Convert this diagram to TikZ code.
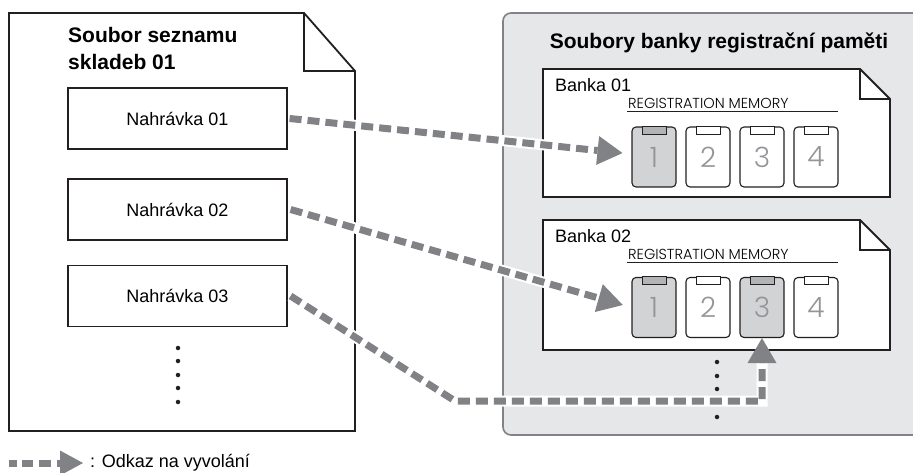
\documentclass[tikz,border=0pt]{standalone}
\usepackage{fontspec}
\setmainfont{Liberation Sans}
\newfontfamily\lightfont{Poppins Light}
\usetikzlibrary{arrows.meta}
\definecolor{dark}{HTML}{231F20}
\definecolor{arrgray}{HTML}{808285}
\definecolor{panel}{HTML}{E6E7E8}
\definecolor{hl}{HTML}{D1D3D4}
\definecolor{numgray}{HTML}{939598}
\tikzset{
  docline/.style={draw=dark, line width=1.8pt, line join=miter},
  foldline/.style={draw=dark, line width=1.2pt},
  recbox/.style={draw=dark, line width=1.2pt, fill=white, minimum width=219pt, minimum height=61pt, inner sep=0pt, font=\fontsize{18}{20}\selectfont},
  btn/.style={draw=dark, line width=1.1pt, rounded corners=4pt, fill=white, minimum width=44pt, minimum height=60pt, inner sep=0pt, text=numgray, font=\lightfont\fontsize{28}{30}\selectfont},
  btnon/.style={btn, fill=hl},
  tabw/.style={draw=dark, line width=1pt, fill=white},
  tabg/.style={draw=dark, line width=1pt, fill=hl!85!black},
  titlef/.style={font=\bfseries\fontsize{21}{27}\selectfont, align=left, inner sep=0pt},
  banklbl/.style={font=\fontsize{18}{20}\selectfont, inner sep=0pt, anchor=west},
  reglbl/.style={font=\lightfont\fontsize{14.5}{16}\selectfont, inner sep=0pt, anchor=west},
  halo/.style={draw=white, line width=11pt},
  link/.style={draw=arrgray, line width=7pt, dash pattern=on 12pt off 6pt, -{Triangle[length=25pt,width=29pt,line width=0pt]}},
  dotf/.style={fill=dark, circle, inner sep=0pt, minimum size=4.5pt},
}
\begin{document}
\begin{tikzpicture}[x=1pt,y=-1pt]
\useasboundingbox (0,0) rectangle (913,473);
\clip (0,0) rectangle (913,473);
\fill[white] (0,0) rectangle (913,473);

% right gray panel
\draw[fill=panel, draw=arrgray, line width=1.6pt, rounded corners=8pt] (503,13) rectangle (930,435);
\node[titlef, anchor=center] (rtitle) at (719,43) {Soubory banky registrační paměti};

% left document
\draw[docline, fill=white] (9,13) -- (304,13) -- (355,71) -- (355,431) -- (9,431) -- cycle;
\draw[foldline] (304,13) -- (304,71) -- (355,71);
\node[titlef, anchor=north west] (ltitle) at (68,27) {Soubor seznamu\\skladeb 01};

\node[recbox] (n1) at (177.5,118.5) {Nahrávka 01};
\node[recbox] (n2) at (177.5,209.5) {Nahrávka 02};
\node[recbox] (n3) at (177.5,296) {Nahrávka 03};
\foreach \yy [count=\i] in {348,361,375,388,402} \node[dotf] (ld\i) at (178,\yy) {};

% bank 01
\draw[docline, fill=white] (543,69) -- (860,69) -- (890,99) -- (890,197) -- (543,197) -- cycle;
\draw[foldline] (860,69) -- (860,99) -- (890,99);
\node[banklbl] (bk1) at (555,85) {Banka 01};
\node[reglbl] (rg1) at (628,103) {REGISTRATION MEMORY};
\draw[dark, line width=0.9pt] (627,111) -- (838,111);
\node[btnon] (b11) at (654,157) {1};
\node[btn] (b12) at (708,157) {2};
\node[btn] (b13) at (762,157) {3};
\node[btn] (b14) at (816,157) {4};
\draw[tabg] ([xshift=-12pt]b11.north) rectangle ([xshift=12pt,yshift=-8pt]b11.north);
\draw[tabw] ([xshift=-12pt]b12.north) rectangle ([xshift=12pt,yshift=-8pt]b12.north);
\draw[tabw] ([xshift=-12pt]b13.north) rectangle ([xshift=12pt,yshift=-8pt]b13.north);
\draw[tabw] ([xshift=-12pt]b14.north) rectangle ([xshift=12pt,yshift=-8pt]b14.north);

% bank 02
\draw[docline, fill=white] (543,220) -- (860,220) -- (890,250) -- (890,350) -- (543,350) -- cycle;
\draw[foldline] (860,220) -- (860,250) -- (890,250);
\node[banklbl] (bk2) at (555,236) {Banka 02};
\node[reglbl] (rg2) at (628,254) {REGISTRATION MEMORY};
\draw[dark, line width=0.9pt] (627,262) -- (838,262);
\node[btnon] (b21) at (654,307.5) {1};
\node[btn] (b22) at (708,307.5) {2};
\node[btnon] (b23) at (762,307.5) {3};
\node[btn] (b24) at (816,307.5) {4};
\draw[tabg] ([xshift=-12pt]b21.north) rectangle ([xshift=12pt,yshift=-8pt]b21.north);
\draw[tabw] ([xshift=-12pt]b22.north) rectangle ([xshift=12pt,yshift=-8pt]b22.north);
\draw[tabg] ([xshift=-12pt]b23.north) rectangle ([xshift=12pt,yshift=-8pt]b23.north);
\draw[tabw] ([xshift=-12pt]b24.north) rectangle ([xshift=12pt,yshift=-8pt]b24.north);
\foreach \yy [count=\i] in {362,376,389,403,417} \node[dotf] (rd\i) at (717,\yy) {};

% connectors
\coordinate (c3) at (455,401);
\draw[halo, shorten >=30pt] ([xshift=2pt]n1.east) -- ([yshift=3pt]b11.west);
\draw[link, shorten >=9pt] ([xshift=2pt]n1.east) -- ([yshift=3pt]b11.west);
\draw[halo, shorten >=30pt] ([xshift=3pt]n2.east) -- (b21.west);
\draw[link, shorten >=9pt] ([xshift=3pt]n2.east) -- (b21.west);
\draw[halo, shorten >=20pt] ([xshift=3pt]n3.east) -- (c3) -| (b23.south);
\draw[link] ([xshift=3pt]n3.east) -- (c3) -| (b23.south);

% legend
\coordinate (la) at (9,463);
\coordinate (lb) at (83,463);
\draw[draw=arrgray, line width=7pt, dash pattern=on 8pt off 5pt on 11pt off 6pt on 12pt off 6pt, -{Triangle[length=23pt,width=25pt,line width=0pt]}] (la) -- (lb);
\node[font=\fontsize{18}{20}\selectfont, anchor=west, inner sep=0pt] (lgt) at (90,463) {: Odkaz na vyvolání};
\end{tikzpicture}
\end{document}
